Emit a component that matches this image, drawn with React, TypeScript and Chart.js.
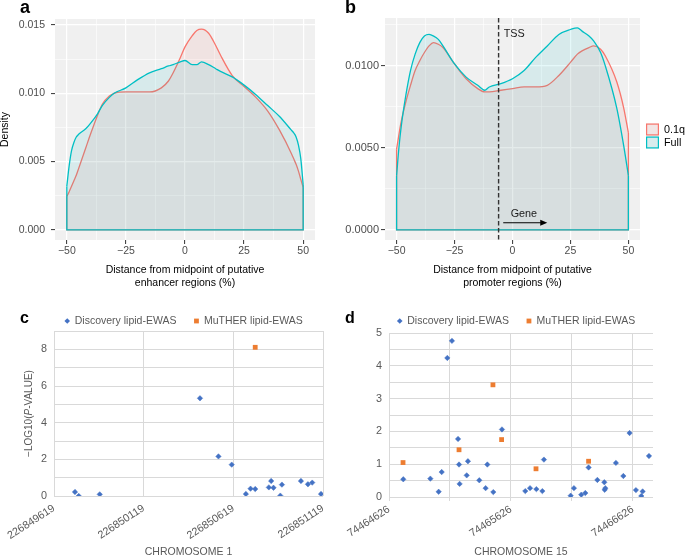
import React, { useEffect, useRef } from "react";
import { Chart, registerables } from "chart.js";

Chart.register(...registerables);

const FONT = "'Liberation Sans', Arial, Helvetica, sans-serif";
const ORANGE = "#F8766D";
const CYAN = "#00BFC4";
const ORANGE_FILL = "rgba(248,118,109,0.1)";
const CYAN_FILL = "rgba(0,191,196,0.1)";
const PANEL_BG = "#F0F0F0";
const BLUE = "#4472C4";
const XL_ORANGE = "#ED7D31";
const XL_GRID = "#D9D9D9";
const XL_TEXT = "#595959";

// ---------- Panel a : enhancer density ----------
const A_X = [-50, -49, -48, -47, -46, -45, -42, -40, -37, -35, -32, -30, -25, -20, -15, -10, -7, -5, -2, 0, 3, 5, 7, 10, 13, 15, 20, 25, 30, 35, 40, 45, 46, 47, 48, 49, 50];
const A_Q01 = [0.00245, 0.0028, 0.0032, 0.0036, 0.004, 0.0045, 0.006, 0.007, 0.0084, 0.0092, 0.0098, 0.01, 0.0101, 0.0101, 0.0101, 0.0104, 0.0109, 0.0115, 0.0126, 0.0134, 0.0142, 0.0146, 0.0147, 0.0144, 0.0135, 0.0128, 0.0113, 0.0105, 0.0097, 0.0087, 0.0073, 0.0056, 0.0052, 0.0048, 0.0043, 0.0037, 0.0031];
const A_FULL = [0.0032, 0.0047, 0.0058, 0.0064, 0.0068, 0.007, 0.0074, 0.0078, 0.0085, 0.0091, 0.0097, 0.01, 0.0104, 0.011, 0.0115, 0.0118, 0.012, 0.0121, 0.0123, 0.0124, 0.0121, 0.0121, 0.0123, 0.0121, 0.0118, 0.0116, 0.0112, 0.0106, 0.0099, 0.0091, 0.0083, 0.0073, 0.0071, 0.0068, 0.0062, 0.0052, 0.0033];
const A_Y_TICKS = [0, 0.005, 0.01, 0.015];
const A_Y_LABELS = ["0.000", "0.005", "0.010", "0.015"];
const A_Y_MINOR = [0.0025, 0.0075, 0.0125];

// ---------- Panel b : promoter density ----------
const B_X = [-50, -49, -48, -46, -44, -42, -40, -38, -36, -34, -32, -30, -25, -20, -15, -12, -10, -5, 0, 5, 10, 15, 20, 25, 28, 30, 33, 35, 38, 40, 45, 48, 50];
const B_Q01 = [0.0049, 0.0058, 0.0066, 0.0078, 0.0088, 0.0097, 0.0103, 0.0108, 0.0112, 0.0114, 0.0113, 0.0111, 0.0101, 0.0092, 0.0086, 0.0084, 0.0084, 0.0085, 0.0086, 0.0087, 0.0087, 0.0088, 0.0094, 0.0102, 0.0107, 0.0109, 0.0111, 0.0112, 0.011, 0.0106, 0.009, 0.0074, 0.0059];
const B_FULL = [0.0033, 0.005, 0.0063, 0.0082, 0.0097, 0.0107, 0.0114, 0.0118, 0.0119, 0.0118, 0.0116, 0.0112, 0.0101, 0.0093, 0.0088, 0.0085, 0.0087, 0.0089, 0.0092, 0.0097, 0.0105, 0.0112, 0.0119, 0.0122, 0.0123, 0.0121, 0.0118, 0.0115, 0.0108, 0.01, 0.0074, 0.0051, 0.0033];
const B_Y_TICKS = [0, 0.005, 0.01];
const B_Y_LABELS = ["0.0000", "0.0050", "0.0100"];
const B_Y_MINOR = [0.0025, 0.0075, 0.0125];
const TSS_X = -6;
const TSS_LABEL = { text: "TSS", x: -3.8, y: 0.0119 };
const GENE_ARROW = { x0: -4, x1: 15, y: 0.00043 };
const GENE_LABEL = { text: "Gene", x: 4.9, y: 0.00095 };

const DENS_X_TICKS = [-50, -25, 0, 25, 50];
const DENS_X_MINOR = [-37.5, -12.5, 12.5, 37.5];
const DENS_SERIES = ["0.1q", "Full"];

// ---------- Panel c : chromosome 1 ----------
const C_DISC_X = [226849736, 226849757, 226849874, 226850433, 226850536, 226850610, 226850689, 226850715, 226850741, 226850817, 226850830, 226850843, 226850881, 226850890, 226850996, 226851035, 226851059, 226851108];
const C_DISC_Y = [0.22, 0.0, 0.09, 5.33, 2.16, 1.71, 0.11, 0.4, 0.38, 0.47, 0.82, 0.45, 0.02, 0.62, 0.82, 0.64, 0.73, 0.11];
const C_MUTHER_X = [226850741];
const C_MUTHER_Y = [8.11];
const C_X_GRID = [226849619, 226850119, 226850619, 226851119];
const C_X_LABELED = [226849619, 226850119, 226850619, 226851119];
const C_Y_GRID = [0, 1, 2, 3, 4, 5, 6, 7, 8, 9];
const C_Y_LABELED = [0, 2, 4, 6, 8];

// ---------- Panel d : chromosome 15 ----------
const D_DISC_X = [74464743, 74464965, 74465033, 74465058, 74465104, 74465142, 74465192, 74465200, 74465205, 74465263, 74465273, 74465366, 74465418, 74465432, 74465481, 74465552, 74465743, 74465782, 74465834, 74465883, 74465896, 74466115, 74466142, 74466202, 74466235, 74466262, 74466334, 74466391, 74466394, 74466399, 74466486, 74466547, 74466598, 74466650, 74466694, 74466705, 74466757];
const D_DISC_Y = [0.54, 0.56, 0.16, 0.76, 4.24, 4.76, 1.77, 0.99, 0.4, 0.66, 1.09, 0.51, 0.27, 0.99, 0.15, 2.06, 0.18, 0.27, 0.24, 0.18, 1.14, 0.04, 0.27, 0.07, 0.12, 0.9, 0.52, 0.45, 0.22, 0.27, 1.04, 0.64, 1.95, 0.21, 0.03, 0.17, 1.25];
const D_MUTHER_X = [74464741, 74465200, 74465478, 74465549, 74465831, 74466262];
const D_MUTHER_Y = [1.05, 1.44, 3.42, 1.75, 0.86, 1.09];
const D_X_GRID = [74464626, 74465126, 74465626, 74466126, 74466626];
const D_X_LABELED = [74464626, 74465626, 74466626];
const D_Y_GRID = [0, 0.5, 1, 1.5, 2, 2.5, 3, 3.5, 4, 4.5, 5];
const D_Y_LABELED = [0, 1, 2, 3, 4, 5];

const SCATTER_SERIES = ["Discovery lipid-EWAS", "MuTHER lipid-EWAS"];

// ---------- helpers ----------
const pts = (xs: number[], ys: number[]) => xs.map((x, i) => ({ x, y: ys[i] }));
const edgePts = (xs: number[], ys: number[]) => [
  { x: xs[0], y: ys[0] },
  { x: xs[0], y: 0 },
  { x: xs[xs.length - 1], y: 0 },
  { x: xs[xs.length - 1], y: ys[ys.length - 1] },
];
const fmtSigned = (v: number) => (v < 0 ? "\u2212" + Math.abs(v) : String(v));

function bgPlugin(color: string) {
  return {
    id: "panelBg",
    beforeDraw(chart: any) {
      const { ctx, chartArea } = chart;
      ctx.save();
      ctx.fillStyle = color;
      ctx.fillRect(chartArea.left, chartArea.top, chartArea.right - chartArea.left, chartArea.bottom - chartArea.top);
      ctx.restore();
    },
  };
}

function panelLabelPlugin(text: string, x: number, y: number, size: number) {
  return {
    id: "panelLabel",
    afterDraw(chart: any) {
      const { ctx } = chart;
      ctx.save();
      ctx.font = `bold ${size}px ${FONT}`;
      ctx.fillStyle = "#000";
      ctx.textAlign = "left";
      ctx.textBaseline = "alphabetic";
      ctx.fillText(text, x, y);
      ctx.restore();
    },
  };
}

const promoterAnnotPlugin = {
  id: "promoterAnnot",
  afterDatasetsDraw(chart: any) {
    const { ctx, chartArea, scales } = chart;
    const xs = scales.x, ys = scales.y;
    ctx.save();
    const tx = xs.getPixelForValue(TSS_X);
    ctx.strokeStyle = "#333333";
    ctx.lineWidth = 1.4;
    ctx.setLineDash([4.5, 2.5]);
    ctx.beginPath();
    ctx.moveTo(tx, chartArea.top);
    ctx.lineTo(tx, chartArea.bottom);
    ctx.stroke();
    ctx.setLineDash([]);
    ctx.fillStyle = "#1a1a1a";
    ctx.font = `10.8px ${FONT}`;
    ctx.textBaseline = "middle";
    ctx.textAlign = "left";
    ctx.fillText(TSS_LABEL.text, xs.getPixelForValue(TSS_LABEL.x), ys.getPixelForValue(TSS_LABEL.y));
    ctx.textAlign = "center";
    ctx.fillText(GENE_LABEL.text, xs.getPixelForValue(GENE_LABEL.x), ys.getPixelForValue(GENE_LABEL.y));
    const ax0 = xs.getPixelForValue(GENE_ARROW.x0);
    const ax1 = xs.getPixelForValue(GENE_ARROW.x1);
    const ay = ys.getPixelForValue(GENE_ARROW.y);
    ctx.strokeStyle = "#000";
    ctx.lineWidth = 1.1;
    ctx.beginPath();
    ctx.moveTo(ax0, ay);
    ctx.lineTo(ax1 - 5, ay);
    ctx.stroke();
    ctx.fillStyle = "#000";
    ctx.beginPath();
    ctx.moveTo(ax1, ay);
    ctx.lineTo(ax1 - 7, ay - 3);
    ctx.lineTo(ax1 - 7, ay + 3);
    ctx.closePath();
    ctx.fill();
    ctx.restore();
  },
  afterDraw(chart: any) {
    const { ctx } = chart;
    ctx.save();
    const keyX = 306, keyW = 13, keyH = 12;
    const keys = [
      { y: 123.5, stroke: ORANGE, fill: ORANGE_FILL },
      { y: 136.5, stroke: CYAN, fill: CYAN_FILL },
    ];
    ctx.font = `10.8px ${FONT}`;
    ctx.textBaseline = "middle";
    ctx.textAlign = "left";
    keys.forEach((k, i) => {
      ctx.fillStyle = "#F2F2F2";
      ctx.fillRect(keyX, k.y, keyW, keyH);
      ctx.fillStyle = k.fill;
      ctx.fillRect(keyX, k.y, keyW, keyH);
      ctx.strokeStyle = k.stroke;
      ctx.lineWidth = 1.2;
      ctx.strokeRect(keyX + 0.6, k.y + 0.6, keyW - 1.2, keyH - 1.2);
      ctx.fillStyle = "#000";
      ctx.fillText(DENS_SERIES[i], keyX + 18, k.y + keyH / 2 + 0.5);
    });
    ctx.restore();
  },
};

function densityConfig(o: any) {
  const xAll = [...DENS_X_TICKS, ...DENS_X_MINOR].sort((a, b) => a - b);
  const yAll = [...o.yTicks, ...o.yMinor].sort((a: number, b: number) => a - b);
  const isMajX = (v: number) => DENS_X_TICKS.includes(v);
  const isMajY = (v: number) => o.yTicks.includes(v);
  const lineCommon = { pointRadius: 0, borderWidth: 1.3 };
  return {
    type: "line",
    data: {
      datasets: [
        { label: "Full outline", data: edgePts(o.xs, o.full), borderColor: CYAN, fill: false, tension: 0, ...lineCommon },
        { label: "Full", data: pts(o.xs, o.full), borderColor: CYAN, backgroundColor: CYAN_FILL, fill: "origin", cubicInterpolationMode: "monotone", ...lineCommon },
        { label: "0.1q outline", data: edgePts(o.xs, o.q), borderColor: ORANGE, fill: false, tension: 0, ...lineCommon },
        { label: "0.1q", data: pts(o.xs, o.q), borderColor: ORANGE, backgroundColor: ORANGE_FILL, fill: "origin", cubicInterpolationMode: "monotone", ...lineCommon },
      ],
    },
    options: {
      responsive: false,
      animation: false,
      events: [],
      layout: { padding: { left: 0, top: o.padTop, right: o.padRight, bottom: 0 } },
      plugins: { legend: { display: false }, tooltip: { enabled: false } },
      scales: {
        x: {
          type: "linear",
          min: -55,
          max: 55,
          afterBuildTicks: (s: any) => { s.ticks = xAll.map((v) => ({ value: v })); },
          afterFit: (s: any) => { s.height = o.xAxisH; },
          ticks: {
            autoSkip: false,
            maxRotation: 0,
            minRotation: 0,
            padding: 1,
            color: "#4D4D4D",
            font: { family: FONT, size: 10.5 },
            callback: (v: number) => (isMajX(v) ? fmtSigned(v) : ""),
          },
          grid: {
            color: "#FFFFFF",
            lineWidth: (c: any) => (c.tick && isMajX(c.tick.value) ? 1.2 : 0.6),
            tickColor: (c: any) => (c.tick && isMajX(c.tick.value) ? "#333333" : "rgba(0,0,0,0)"),
            tickLength: 4,
            tickWidth: 1,
          },
          border: { display: false },
          title: {
            display: true,
            text: o.xTitle,
            color: "#000",
            font: { family: FONT, size: 10.5, lineHeight: 1.24 },
            padding: { top: 0, bottom: 0 },
          },
        },
        y: {
          type: "linear",
          min: o.yMin,
          max: o.yMax,
          afterBuildTicks: (s: any) => { s.ticks = yAll.map((v: number) => ({ value: v })); },
          afterFit: (s: any) => { s.width = o.yAxisW; },
          ticks: {
            autoSkip: false,
            padding: o.yTickPad,
            color: "#4D4D4D",
            font: { family: FONT, size: o.yTickSize },
            callback: (v: number) => {
              const i = o.yTicks.indexOf(v);
              return i >= 0 ? o.yLabels[i] : "";
            },
          },
          grid: {
            color: "#FFFFFF",
            lineWidth: (c: any) => (c.tick && isMajY(c.tick.value) ? 1.2 : 0.6),
            tickColor: (c: any) => (c.tick && isMajY(c.tick.value) ? "#333333" : "rgba(0,0,0,0)"),
            tickLength: 4,
            tickWidth: 1,
          },
          border: { display: false },
          title: o.yTitle
            ? { display: true, text: o.yTitle, color: "#000", font: { family: FONT, size: 10.5, lineHeight: 1 }, padding: { top: 0, bottom: 0 } }
            : { display: false },
        },
      },
    },
    plugins: [bgPlugin(PANEL_BG), ...o.extra],
  };
}

function diamond(ctx: any, x: number, y: number, r: number) {
  ctx.beginPath();
  ctx.moveTo(x, y - r);
  ctx.lineTo(x + r, y);
  ctx.lineTo(x, y + r);
  ctx.lineTo(x - r, y);
  ctx.closePath();
  ctx.fill();
}

function excelLegendPlugin(y: number) {
  return {
    id: "xlLegend",
    afterDraw(chart: any) {
      const { ctx, chartArea } = chart;
      ctx.save();
      ctx.font = `10.5px ${FONT}`;
      ctx.textBaseline = "middle";
      ctx.textAlign = "left";
      const w0 = ctx.measureText(SCATTER_SERIES[0]).width;
      const w1 = ctx.measureText(SCATTER_SERIES[1]).width;
      const total = 3 + 7.5 + w0 + 20 + 7.5 + w1;
      const center = (chartArea.left + chartArea.right) / 2 - 5;
      const m1 = center - total / 2 + 3;
      ctx.fillStyle = BLUE;
      diamond(ctx, m1, y, 2.8);
      ctx.fillStyle = XL_TEXT;
      ctx.fillText(SCATTER_SERIES[0], m1 + 7.5, y);
      const m2 = m1 + 7.5 + w0 + 20;
      ctx.fillStyle = XL_ORANGE;
      ctx.fillRect(m2 - 2.4, y - 2.4, 4.8, 4.8);
      ctx.fillStyle = XL_TEXT;
      ctx.fillText(SCATTER_SERIES[1], m2 + 7.5, y);
      ctx.restore();
    },
  };
}

const cYTitlePlugin = {
  id: "cYTitle",
  afterDraw(chart: any) {
    const { ctx, chartArea } = chart;
    const parts: [string, boolean][] = [["\u2212LOG10(", false], ["P", true], ["-VALUE)", false]];
    const size = 10;
    ctx.save();
    ctx.fillStyle = XL_TEXT;
    ctx.textBaseline = "middle";
    ctx.textAlign = "left";
    const widths = parts.map(([t, it]) => {
      ctx.font = `${it ? "italic " : ""}${size}px ${FONT}`;
      return ctx.measureText(t).width;
    });
    const total = widths.reduce((a, b) => a + b, 0);
    ctx.translate(29, (chartArea.top + chartArea.bottom) / 2);
    ctx.rotate(-Math.PI / 2);
    let x = -total / 2;
    parts.forEach(([t, it], i) => {
      ctx.font = `${it ? "italic " : ""}${size}px ${FONT}`;
      ctx.fillText(t, x, 0);
      x += widths[i];
    });
    ctx.restore();
  },
};

function scatterConfig(o: any) {
  const isLabX = (v: number) => o.xLabeled.includes(v);
  const isLabY = (v: number) => o.yLabeled.includes(v);
  return {
    type: "scatter",
    data: {
      datasets: [
        {
          label: SCATTER_SERIES[0],
          data: pts(o.discX, o.discY),
          pointStyle: "rectRot",
          pointRadius: 2.7,
          backgroundColor: BLUE,
          borderColor: BLUE,
          borderWidth: 0.5,
        },
        {
          label: SCATTER_SERIES[1],
          data: pts(o.mutX, o.mutY),
          pointStyle: "rect",
          pointRadius: 3.4,
          backgroundColor: XL_ORANGE,
          borderColor: XL_ORANGE,
          borderWidth: 0,
        },
      ],
    },
    options: {
      responsive: false,
      animation: false,
      events: [],
      layout: { padding: { left: 0, top: o.padTop, right: o.padRight, bottom: 0 } },
      plugins: { legend: { display: false }, tooltip: { enabled: false } },
      scales: {
        x: {
          type: "linear",
          min: o.xMin,
          max: o.xMax,
          afterBuildTicks: (s: any) => { s.ticks = o.xGrid.map((v: number) => ({ value: v })); },
          afterFit: (s: any) => { s.height = o.xAxisH; },
          ticks: {
            autoSkip: false,
            minRotation: 33,
            maxRotation: 33,
            padding: o.xTickPad,
            color: XL_TEXT,
            font: { family: FONT, size: 10.8 },
            callback: (v: number) => (isLabX(v) ? String(v) : ""),
          },
          grid: {
            color: XL_GRID,
            lineWidth: 1,
            drawTicks: o.xTickMarks,
            tickLength: 4,
            tickColor: XL_GRID,
          },
          border: { display: false },
          title: {
            display: true,
            text: o.xTitle,
            color: XL_TEXT,
            font: { family: FONT, size: 10.5, lineHeight: 0.8 },
            padding: { top: 0, bottom: 0 },
          },
        },
        y: {
          type: "linear",
          min: 0,
          max: o.yMax,
          afterBuildTicks: (s: any) => { s.ticks = o.yGrid.map((v: number) => ({ value: v })); },
          afterFit: (s: any) => { s.width = o.yAxisW; },
          ticks: {
            autoSkip: false,
            padding: o.yTickPad,
            color: XL_TEXT,
            font: { family: FONT, size: 10.8 },
            callback: (v: number) => (isLabY(v) ? String(v) : ""),
          },
          grid: { color: XL_GRID, lineWidth: 1, drawTicks: false },
          border: { display: false },
        },
      },
    },
    plugins: o.extra,
  };
}

function ChartBox({ make, left, top, width, height }: any) {
  const ref = useRef<HTMLCanvasElement>(null);
  useEffect(() => {
    const chart = new Chart(ref.current as HTMLCanvasElement, make());
    return () => chart.destroy();
  }, []);
  return (
    <div style={{ position: "absolute", left, top, width, height }}>
      <canvas ref={ref} width={width} height={height} style={{ width, height, display: "block" }} />
    </div>
  );
}

export default function App() {
  const makeA = () =>
    densityConfig({
      xs: A_X, q: A_Q01, full: A_FULL,
      yMin: -0.00074, yMax: 0.01544,
      yTicks: A_Y_TICKS, yLabels: A_Y_LABELS, yMinor: A_Y_MINOR,
      padTop: 19, padRight: 25, yAxisW: 55, xAxisH: 50, yTickPad: 6, yTickSize: 10.5,
      xTitle: ["Distance from midpoint of putative", "enhancer regions (%)"],
      yTitle: "Density",
      extra: [panelLabelPlugin("a", 20, 13, 18)],
    });
  const makeB = () =>
    densityConfig({
      xs: B_X, q: B_Q01, full: B_FULL,
      yMin: -0.00062, yMax: 0.0129,
      yTicks: B_Y_TICKS, yLabels: B_Y_LABELS, yMinor: B_Y_MINOR,
      padTop: 18, padRight: 45, yAxisW: 45, xAxisH: 50, yTickPad: 2, yTickSize: 11,
      xTitle: ["Distance from midpoint of putative", "promoter regions (%)"],
      extra: [promoterAnnotPlugin, panelLabelPlugin("b", 5, 13, 18)],
    });
  const makeC = () =>
    scatterConfig({
      discX: C_DISC_X, discY: C_DISC_Y, mutX: C_MUTHER_X, mutY: C_MUTHER_Y,
      xMin: 226849619, xMax: 226851119, xGrid: C_X_GRID, xLabeled: C_X_LABELED,
      yMax: 9, yGrid: C_Y_GRID, yLabeled: C_Y_LABELED,
      padTop: 31, padRight: 17, yAxisW: 54, xAxisH: 60, yTickPad: 7, xTickPad: 6, xTickMarks: false,
      xTitle: "CHROMOSOME 1",
      extra: [excelLegendPlugin(21), cYTitlePlugin, panelLabelPlugin("c", 20, 23, 16)],
    });
  const makeD = () =>
    scatterConfig({
      discX: D_DISC_X, discY: D_DISC_Y, mutX: D_MUTHER_X, mutY: D_MUTHER_Y,
      xMin: 74464626, xMax: 74466790, xGrid: D_X_GRID, xLabeled: D_X_LABELED,
      yMax: 5, yGrid: D_Y_GRID, yLabeled: D_Y_LABELED,
      padTop: 33, padRight: 32, yAxisW: 49, xAxisH: 59, yTickPad: 7, xTickPad: 2, xTickMarks: true,
      xTitle: "CHROMOSOME 15",
      extra: [excelLegendPlugin(21), panelLabelPlugin("d", 5, 23, 16)],
    });
  return (
    <div style={{ position: "absolute", left: 0, top: 0, width: 685, height: 556, background: "#fff", overflow: "hidden" }}>
      <ChartBox make={makeA} left={0} top={0} width={340} height={290} />
      <ChartBox make={makeB} left={340} top={0} width={345} height={290} />
      <ChartBox make={makeC} left={0} top={300} width={340} height={256} />
      <ChartBox make={makeD} left={340} top={300} width={345} height={256} />
    </div>
  );
}
